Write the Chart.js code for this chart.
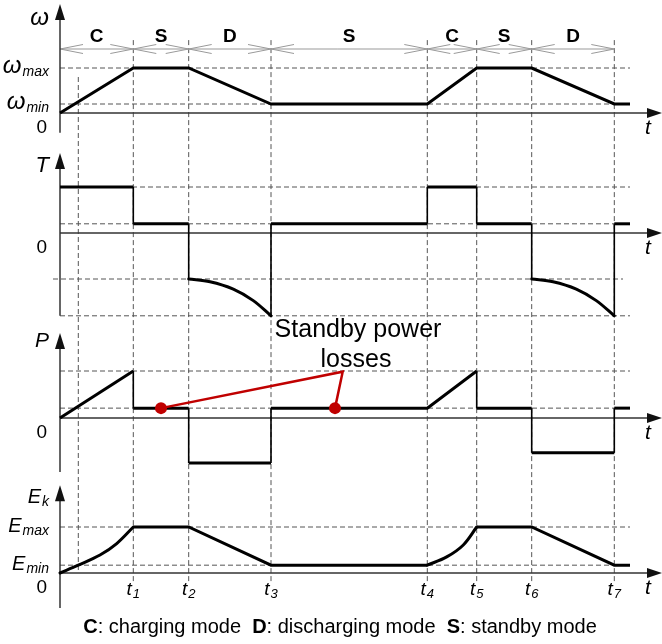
<!DOCTYPE html>
<html>
<head>
<meta charset="utf-8">
<script src="https://cdn.jsdelivr.net/npm/chart.js@4.4.0/dist/chart.umd.min.js"></script>
<style>
html, body { margin: 0; padding: 0; background: #fff; }
#wrap { position: relative; width: 662px; height: 644px; }
</style>
</head>
<body>
<div id="wrap"><canvas id="chart" width="662" height="644"></canvas></div>
<script>
// time instants t1..t7, and the moment omega first reaches omega_min
const tMarks = [7.33, 12.87, 21.1, 36.73, 41.67, 47.17, 55.43];
const tMarkLabels = ['1', '2', '3', '4', '5', '6', '7'];
const tMinReached = 1.83;
const tEnd = 57.0;

// operating modes between the instants
const modeNames = ['C', 'S', 'D', 'S', 'C', 'S', 'D'];
const modeBounds = [0, 7.33, 12.87, 21.1, 36.73, 41.67, 47.17, 55.43];

// speed (omega_max = 1)
const omegaT = [0, 7.33, 12.87, 21.1, 36.73, 41.67, 47.17, 55.43, 57.0];
const omegaV = [0, 1, 1, 0.2, 0.2, 1, 1, 0.2, 0.2];

// torque, steps (null = break where the discharge curve is)
const torqueT = [0, 7.33, 7.33, 12.87, 12.87, 17, 21.1, 21.1, 36.73, 36.73, 41.67, 41.67, 47.17, 47.17, 51.3, 55.43, 55.43, 57.0];
const torqueV = [1, 1, 0.2, 0.2, -1, null, -1.8, 0.2, 0.2, 1, 1, 0.2, 0.2, -1, null, -1.8, 0.2, 0.2];
// torque during discharge
const torqueD1T = [12.87, 15.0, 17.33, 19.33, 21.1];
const torqueD2T = [47.17, 49.3, 51.63, 53.63, 55.43];
const torqueDV = [-1.0, -1.06, -1.22, -1.47, -1.8];

// power
const powerT = [0, 7.33, 7.33, 12.87, 12.87, 21.1, 21.1, 36.73, 41.67, 41.67, 47.17, 47.17, 55.43, 55.43, 57.0];
const powerV = [0, 1, 0.21, 0.21, -0.96, -0.96, 0.21, 0.21, 1, 0.21, 0.21, -0.74, -0.74, 0.21, 0.21];

// standby loss callout
const lossT = [10.1, 28.27, 27.5];
const lossV = [0.21, 0.985, 0.21];

// kinetic energy
const energyT = [7.33, 12.87, 21.1, 36.73, 39, 41.67, 47.17, 55.43, 57.0];
const energyV = [1, 1, 0.17, 0.17, null, 1, 1, 0.17, 0.17];
const energyC1T = [0, 1.83, 4.0, 5.67, 7.33];
const energyC1V = [0, 0.17, 0.39, 0.64, 1.0];
const energyC2T = [36.73, 38.67, 40.33, 41.67];
const energyC2V = [0.17, 0.35, 0.61, 1.0];

const H = 644;
function range(zeroPx, pxPerUnit) {
    return { min: -(H - zeroPx) / pxPerUnit, max: zeroPx / pxPerUnit };
}
function pts(ts, vs) {
    return ts.map((t, i) => ({ x: t, y: vs[i] }));
}

const FONT = '"Liberation Sans", Arial, sans-serif';
const thinVertical = c => c.p0.parsed.x === c.p1.parsed.x ? 1.6 : 3;

const panels = [
    { axis: 'yW', tip: 2.42, bottom: -0.44, title: ['ω', ''], titleAt: 1.96,
      levels: [[1, 'ω', 'max'], [0.2, 'ω', 'min']], big: 24, small: 14 },
    { axis: 'yT', tip: 1.74, bottom: -1.8, title: ['T', ''], titleAt: 1.33, levels: [], big: 22, small: 14 },
    { axis: 'yP', tip: 1.81, bottom: -1.15, title: ['P', ''], titleAt: 1.51, levels: [], big: 21, small: 14 },
    { axis: 'yE', tip: 1.91, bottom: -0.76, title: ['E', 'k'], titleAt: 1.52,
      levels: [[1, 'E', 'max'], [0.17, 'E', 'min']], big: 20, small: 14 }
];

const guides = [
    ['yW', 1, 0, tEnd], ['yW', 0.2, 0, tEnd],
    ['yT', 1, 0, tEnd], ['yT', 0.2, 0, tEnd], ['yT', -1, -0.7, 56.3], ['yT', -1.8, 0, tEnd],
    ['yP', 1, 0, tEnd], ['yP', 0.21, 0, tEnd],
    ['yE', 1, 0, tEnd], ['yE', 0.17, 0, tEnd]
];

function line(ctx, x1, y1, x2, y2) {
    ctx.beginPath(); ctx.moveTo(x1, y1); ctx.lineTo(x2, y2); ctx.stroke();
}
function subText(ctx, x, y, main, sub, big, small, align) {
    ctx.font = 'italic ' + big + 'px ' + FONT;
    const w1 = ctx.measureText(main).width;
    ctx.font = 'italic ' + small + 'px ' + FONT;
    const w2 = sub ? ctx.measureText(sub).width + 1 : 0;
    let x0 = align === 'right' ? x - w1 - w2 : x - (w1 + w2) / 2;
    ctx.textAlign = 'left';
    ctx.font = 'italic ' + big + 'px ' + FONT;
    ctx.fillText(main, x0, y);
    if (sub) {
        ctx.font = 'italic ' + small + 'px ' + FONT;
        ctx.fillText(sub, x0 + w1 + 1, y + 3);
    }
}

const overlay = {
    id: 'overlay',
    beforeDatasetsDraw(chart) {
        const ctx = chart.ctx;
        const X = v => chart.scales.x.getPixelForValue(v);
        const Y = (id, v) => chart.scales[id].getPixelForValue(v);
        ctx.save();
        // dashed guides
        ctx.strokeStyle = '#555';
        ctx.lineWidth = 1;
        ctx.setLineDash([5, 3]);
        tMarks.forEach(t => line(ctx, X(t), Y('yW', 1.62), X(t), Y('yE', -0.2)));
        line(ctx, X(tMinReached), Y('yW', 0.8), X(tMinReached), Y('yE', 0));
        guides.forEach(g => line(ctx, X(g[2]), Y(g[0], g[1]), X(g[3]), Y(g[0], g[1])));
        ctx.setLineDash([]);

        // mode span arrows
        const my = Y('yW', 1.422);
        ctx.strokeStyle = '#999';
        line(ctx, X(modeBounds[0]), my, X(modeBounds[modeBounds.length - 1]), my);
        for (let i = 0; i < modeNames.length; i++) {
            const a = X(modeBounds[i]), b = X(modeBounds[i + 1]);
            ctx.beginPath();
            ctx.moveTo(a + 23, my - 4.5); ctx.lineTo(a, my); ctx.lineTo(a + 23, my + 4.5);
            ctx.moveTo(b - 23, my - 4.5); ctx.lineTo(b, my); ctx.lineTo(b - 23, my + 4.5);
            ctx.stroke();
            ctx.fillStyle = '#000';
            ctx.font = 'bold 19px ' + FONT;
            ctx.textAlign = 'center';
            ctx.fillText(modeNames[i], (a + b) / 2, my - 7);
        }

        // axes with arrows
        ctx.strokeStyle = '#333';
        ctx.fillStyle = '#111';
        ctx.lineWidth = 1.5;
        const x0 = X(0);
        panels.forEach(p => {
            const top = Y(p.axis, p.tip), y0 = Y(p.axis, 0);
            line(ctx, x0, Y(p.axis, p.bottom), x0, top + 12);
            ctx.beginPath();
            ctx.moveTo(x0, top); ctx.lineTo(x0 - 5, top + 16); ctx.lineTo(x0 + 5, top + 16);
            ctx.closePath(); ctx.fill();
            const xr = X(60.2);
            line(ctx, x0, y0, xr - 12, y0);
            ctx.beginPath();
            ctx.moveTo(xr, y0); ctx.lineTo(xr - 15, y0 - 5); ctx.lineTo(xr - 15, y0 + 5);
            ctx.closePath(); ctx.fill();
        });
        ctx.restore();
    },
    afterDatasetsDraw(chart) {
        const ctx = chart.ctx;
        const X = v => chart.scales.x.getPixelForValue(v);
        const Y = (id, v) => chart.scales[id].getPixelForValue(v);
        ctx.save();
        ctx.fillStyle = '#000';
        ctx.textBaseline = 'alphabetic';
        const xl = X(0) - 11;
        panels.forEach(p => {
            const y0 = Y(p.axis, 0);
            subText(ctx, xl, Y(p.axis, p.titleAt), p.title[0], p.title[1], p.big, p.small, 'right');
            p.levels.forEach(l => subText(ctx, xl, Y(p.axis, l[0]) + 5, l[1], l[2], p.big, p.small, 'right'));
            ctx.font = '19px ' + FONT;
            ctx.textAlign = 'right';
            ctx.fillText('0', X(0) - 13, y0 + 20);
            subText(ctx, X(58.8), y0 + 21, 't', '', 21, 14, 'center');
        });
        // t1..t7 under the energy panel
        tMarks.forEach((t, i) => subText(ctx, X(t), Y('yE', 0) + 22, 't', tMarkLabels[i], 19, 13, 'center'));

        // callout text
        ctx.font = '25px ' + FONT;
        ctx.textAlign = 'center';
        ctx.fillText('Standby power', X(29.8), Y('yP', 1.72));
        ctx.fillText('losses', X(29.6), Y('yP', 1.085));

        // caption
        const parts = [['C', 'bold '], [': charging mode  ', ''], ['D', 'bold '], [': discharging mode  ', ''], ['S', 'bold '], [': standby mode', '']];
        let total = 0;
        parts.forEach(p => { ctx.font = p[1] + '20px ' + FONT; total += ctx.measureText(p[0]).width; });
        let cx = 340 - total / 2;
        ctx.textAlign = 'left';
        parts.forEach(p => {
            ctx.font = p[1] + '20px ' + FONT;
            ctx.fillText(p[0], cx, 633);
            cx += ctx.measureText(p[0]).width;
        });
        ctx.restore();
    }
};

const curve = (data, axis) => ({
    data: data, yAxisID: axis, borderColor: '#000', borderWidth: 3,
    tension: 0.35, borderCapStyle: 'round', borderJoinStyle: 'round', pointRadius: 0
});

new Chart(document.getElementById('chart'), {
    type: 'line',
    data: {
        datasets: [
            { data: pts(lossT, lossV), yAxisID: 'yP', borderColor: '#c00000', borderWidth: 2.5,
              pointRadius: c => c.dataIndex === 1 ? 0 : 6, pointBackgroundColor: '#c00000', pointBorderWidth: 0 },
            { data: pts(omegaT, omegaV), yAxisID: 'yW', borderColor: '#000', borderWidth: 3, pointRadius: 0 },
            { data: pts(torqueT, torqueV), yAxisID: 'yT', borderColor: '#000', borderWidth: 3, pointRadius: 0,
              segment: { borderWidth: thinVertical } },
            curve(pts(torqueD1T, torqueDV), 'yT'),
            curve(pts(torqueD2T, torqueDV), 'yT'),
            { data: pts(powerT, powerV), yAxisID: 'yP', borderColor: '#000', borderWidth: 3, pointRadius: 0,
              segment: { borderWidth: thinVertical } },
            { data: pts(energyT, energyV), yAxisID: 'yE', borderColor: '#000', borderWidth: 3, pointRadius: 0 },
            curve(pts(energyC1T, energyC1V), 'yE'),
            curve(pts(energyC2T, energyC2V), 'yE')
        ]
    },
    options: {
        responsive: false,
        animation: false,
        layout: { padding: 0, autoPadding: false },
        plugins: { legend: { display: false }, tooltip: { enabled: false } },
        scales: {
            x: { type: 'linear', min: -6, max: 60.2, display: false },
            yW: Object.assign({ type: 'linear', display: false }, range(113, 45)),
            yT: Object.assign({ type: 'linear', display: false }, range(233, 46)),
            yP: Object.assign({ type: 'linear', display: false }, range(418, 47)),
            yE: Object.assign({ type: 'linear', display: false }, range(573, 46))
        }
    },
    plugins: [overlay]
});
</script>
</body>
</html>
